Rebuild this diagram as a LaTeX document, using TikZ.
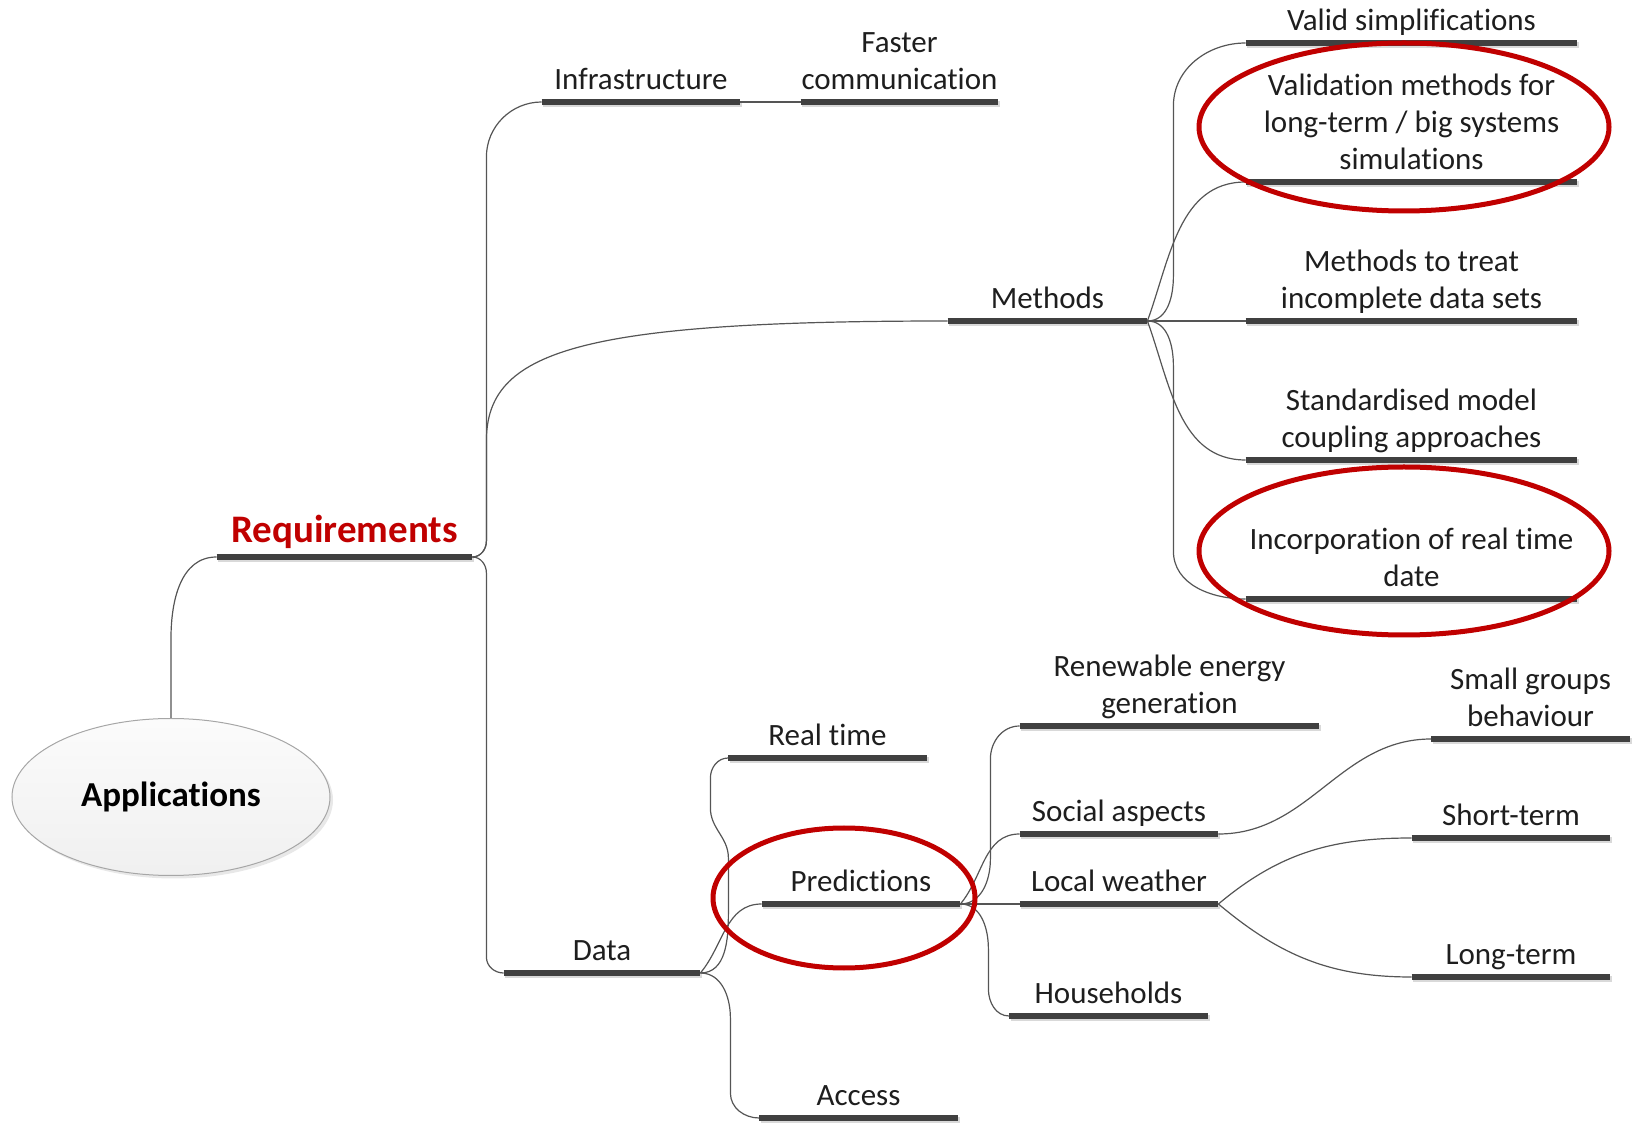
\documentclass[tikz,border=0pt]{standalone}
\usepackage{fontspec}
\setmainfont{Carlito}[RawFeature=-liga,RawFeature=-clig,RawFeature=-dlig,RawFeature=-calt,RawFeature=-rlig]
\usetikzlibrary{shapes.geometric,shadows}

\definecolor{barcol}{HTML}{404040}
\definecolor{linkcol}{HTML}{555555}
\definecolor{ringred}{HTML}{C00000}
\definecolor{txtcol}{HTML}{1E1E1E}

\begin{document}
\begin{tikzpicture}[x=0.5pt,y=0.5pt,
  topic/.style={font=\fontsize{15.5}{18.5}\selectfont, text=txtcol, align=center, anchor=south,
    inner xsep=0pt, inner ysep=3pt, text depth=3pt, minimum width=#1},
  topic/.default=99pt,
  bar/.style={draw=barcol, line width=2.6pt,
    preaction={draw=black!15, line width=2.6pt, transform canvas={xshift=0.8pt,yshift=-1pt}}},
  link/.style={draw=linkcol, line width=0.6pt},
  redring/.style={ellipse, draw=ringred, line width=2.5pt, inner sep=0pt},
  root/.style={ellipse, draw=gray!70, line width=0.5pt, top color=gray!3, bottom color=gray!12,
    minimum width=159pt, minimum height=78.5pt, text=black,
    font=\bfseries\fontsize{17.5}{21}\selectfont,
    drop shadow={opacity=0.18, shadow xshift=1.5pt, shadow yshift=-1.5pt}}]
\useasboundingbox (0,0) rectangle (1639,-1127);

\node[root] (app) at (171,-797) {Applications};
\node[topic=127.5pt, font=\bfseries\fontsize{19.5}{23}\selectfont, text=ringred, inner ysep=4pt] (req) at (344.5,-557) {Requirements};

\node[topic] (infra) at (641,-102) {Infrastructure};
\node[topic=98.5pt] (faster) at (899.5,-102) {Faster\\communication};
\node[topic=99.5pt] (methods) at (1047.5,-321) {Methods};
\node[topic=98pt] (data) at (602,-973) {Data};

\node[topic=165.5pt] (valid) at (1411.5,-43) {Valid simplifications};
\node[topic=165.5pt] (validation) at (1411.5,-182) {Validation methods for\\long-term / big systems\\simulations};
\node[topic=165.5pt] (treat) at (1411.5,-321) {Methods to treat\\incomplete data sets};
\node[topic=165.5pt] (coupling) at (1411.5,-460) {Standardised model\\coupling approaches};
\node[topic=165.5pt] (realdata) at (1411.5,-599) {Incorporation of real time\\date};

\node[topic] (realtime) at (827.5,-758) {Real time};
\node[topic] (predict) at (861,-904) {Predictions};
\node[topic] (access) at (858.5,-1118) {Access};

\node[topic=149.5pt] (renew) at (1169.5,-726) {Renewable energy\\generation};
\node[topic] (social) at (1119,-834) {Social aspects};
\node[topic] (weather) at (1119,-904) {Local weather};
\node[topic] (house) at (1108.5,-1016) {Households};

\node[topic] (groups) at (1530.5,-739) {Small groups\\behaviour};
\node[topic] (short) at (1511,-838) {Short-term};
\node[topic] (long) at (1511,-977) {Long-term};

\foreach \n in {req,infra,faster,methods,data,valid,validation,treat,coupling,realdata,
    realtime,predict,access,renew,social,weather,house,groups,short,long}
  \draw[bar] (\n.south west) -- (\n.south east);

\draw[link] (app.north) -- ++(0,80) to[out=90,in=180] (req.south west);
\draw[link] (req.south east) to[out=0,in=-90] ++(14,16) -- ++(0,384) to[out=90,in=180] (infra.south west);
\draw[link] (req.south east) to[out=0,in=-90] ++(14,16) -- ++(0,100)
  to[out=90,in=180,out distance=45pt,in distance=185pt] (methods.south west);
\draw[link] (req.south east) to[out=0,in=90] ++(14,-16) -- ++(0,-384) to[out=-90,in=180] (data.south west);
\draw[link] (infra.south east) -- (faster.south west);

\draw[link] (methods.south east) to[out=0,in=-90] ++(26,45) -- ++(0,170) to[out=90,in=180] (valid.south west);
\draw[link] (methods.south east) to[out=70,in=180] (validation.south west);
\draw[link] (methods.south east) -- (treat.south west);
\draw[link] (methods.south east) to[out=-70,in=180] (coupling.south west);
\draw[link] (methods.south east) to[out=0,in=90] ++(26,-45) -- ++(0,-185) to[out=-90,in=180] (realdata.south west);

\draw[link] (data.south east) to[out=0,in=-90] ++(28,60) -- ++(0,55) to[out=90,in=-90] ++(-18,50)
  -- ++(0,30) to[out=90,in=180] (realtime.south west);
\draw[link] (data.south east) to[out=50,in=180] (predict.south west);
\draw[link] (data.south east) to[out=0,in=90] ++(30,-45) -- ++(0,-75) to[out=-90,in=180] (access.south west);

\draw[link] (predict.south east) to[out=0,in=-90] ++(30,45) -- ++(0,100) to[out=90,in=180] (renew.south west);
\draw[link] (predict.south east) to[out=50,in=180] (social.south west);
\draw[link] (predict.south east) -- (weather.south west);
\draw[link] (predict.south east) to[out=0,in=90] ++(28,-45) -- ++(0,-40) to[out=-90,in=180] (house.south west);

\draw[link] (social.south east) to[out=0,in=180] (groups.south west);
\draw[link] (weather.south east) to[out=40,in=180] (short.south west);
\draw[link] (weather.south east) to[out=-40,in=180] (long.south west);

\node[redring, minimum width=205pt, minimum height=84pt] (ringa) at (1404,-127) {};
\node[redring, minimum width=205pt, minimum height=84pt] (ringb) at (1404,-551) {};
\node[redring, minimum width=131pt, minimum height=70pt] (ringc) at (844,-898) {};
\end{tikzpicture}
\end{document}
